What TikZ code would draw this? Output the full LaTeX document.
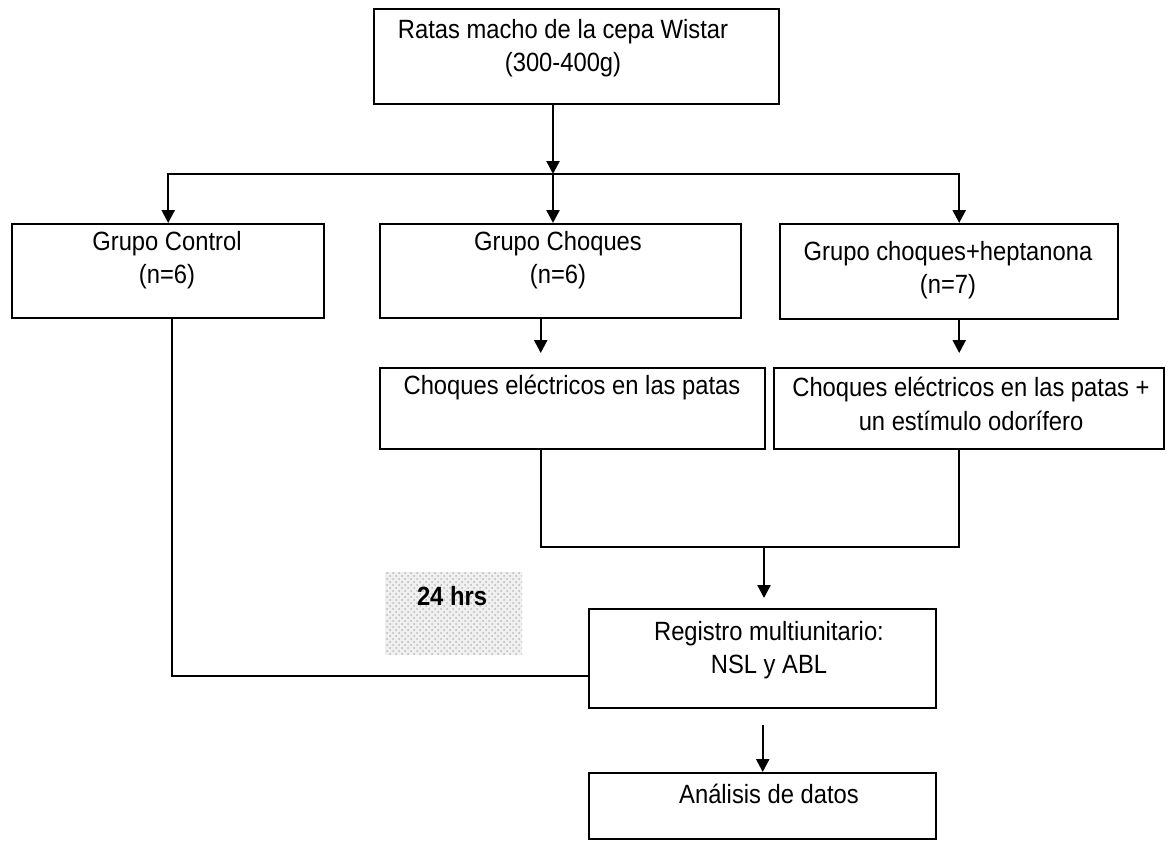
\documentclass[tikz,border=0pt]{standalone}
\usepackage{fontspec}
\setmainfont{Liberation Sans}[FakeStretch=0.9]
\usetikzlibrary{arrows.meta,patterns}
\definecolor{patchgray}{RGB}{240,240,240}
\definecolor{speckgray}{RGB}{185,185,185}

\begin{document}
\begin{tikzpicture}[
    x=0.5pt, y=-0.5pt,
    box/.style={rectangle, draw, line width=1.2pt, anchor=north west, inner sep=0pt},
    txt/.style={align=center, inner sep=0pt, font=\fontsize{13.2}{16.8}\selectfont},
    line/.style={line width=1.2pt},
    arrow/.style={line width=1.2pt, -{Triangle[width=6.5pt,length=6.5pt]}}
]
\useasboundingbox (0,0) rectangle (1170,840);

% Boxes
\node[box, minimum width=202.5pt, minimum height=47.5pt] (rats) at (373,8) {};
\node[box, minimum width=156pt, minimum height=47pt] (ctrl) at (11,223) {};
\node[box, minimum width=180.5pt, minimum height=47pt] (choq) at (379,223) {};
\node[box, minimum width=169pt, minimum height=47.5pt] (hept) at (779,223) {};
\node[box, minimum width=192.5pt, minimum height=40.5pt] (shockA) at (379,367) {};
\node[box, minimum width=195pt, minimum height=40.5pt] (shockB) at (773,367) {};
\node[box, minimum width=173.5pt, minimum height=49.5pt] (reg) at (588,608) {};
\node[box, minimum width=173.5pt, minimum height=33pt] (anal) at (588,772) {};

% Texts
\node[txt] (rats-t) at (563,48) {Ratas macho de la cepa Wistar\\(300-400g)};
\node[txt] (ctrl-t) at (167,260) {Grupo Control\\(n=6)};
\node[txt] (choq-t) at (558,260) {Grupo Choques\\(n=6)};
\node[txt] (hept-t) at (948,270) {Grupo choques+heptanona\\(n=7)};
\node[txt] (shockA-t) at (572,388) {Choques eléctricos en las patas};
\node[txt] (shockB-t) at (971,404) {Choques eléctricos en las patas +\\un estímulo odorífero};
\node[txt] (reg-t) at (769,650) {Registro multiunitario:\\NSL y ABL};
\node[txt] (anal-t) at (769,794) {Análisis de datos};

% 24 hrs patch
\fill[patchgray] (385,572) rectangle (522,655);
\fill[pattern=crosshatch dots, pattern color=speckgray] (385,572) rectangle (522,655);
\node[txt, font=\fontsize{13.2}{16.8}\selectfont\bfseries] (hrs) at (452,596) {24 hrs};

% Split into groups
\coordinate (split) at (553,174);
\draw[arrow] (rats.south -| split) -- (split);
\draw[arrow] (split) -| (ctrl.north);
\draw[arrow] (split) -- (split |- choq.north);
\draw[arrow] (split) -| ([xshift=5pt]hept.north);

% Stimuli
\draw[arrow, shorten >=7pt] ([xshift=-10pt]choq.south) -- ([xshift=-10pt]choq.south |- shockA.north);
\draw[arrow, shorten >=7pt] ([xshift=5pt]hept.south) -- ([xshift=5pt]hept.south |- shockB.north);

% Merge to recording
\coordinate (join) at (764,547);
\draw[line] ([xshift=-16pt]shockA.south) |- (join) -| ([xshift=-5pt]shockB.south);
\draw[arrow, shorten >=5pt] (join) -- (join |- reg.north);
\draw[line] ([xshift=2pt]ctrl.south) |- ([yshift=-8.75pt]reg.west);

% Analysis
\draw[arrow, shorten <=8pt] (reg.south) -- (anal.north);

\end{tikzpicture}
\end{document}
